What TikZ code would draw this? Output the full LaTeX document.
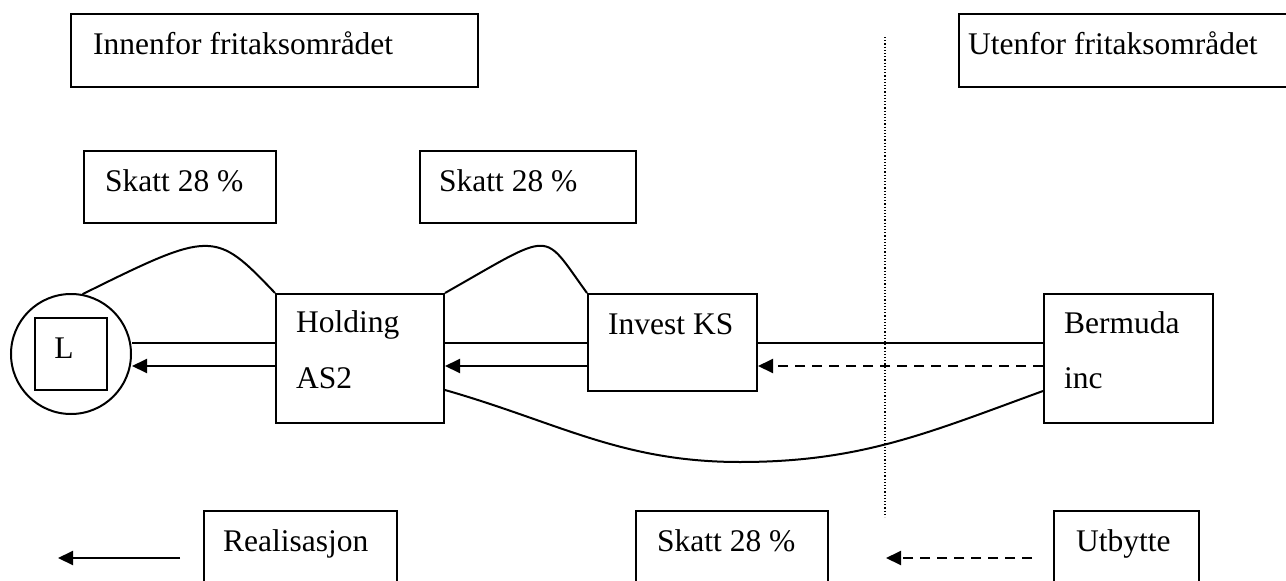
\documentclass[tikz,border=0pt]{standalone}
\usepackage{fontspec}
\setmainfont{Liberation Serif}
\usetikzlibrary{arrows.meta}
\begin{document}
\begin{tikzpicture}[x=1pt,y=-1pt,
  box/.style={draw, line width=2pt, inner sep=0pt, anchor=north west},
  txt/.style={anchor=base west, inner sep=0pt, font=\fontsize{31.5}{38}\selectfont},
  link/.style={line width=2pt},
  flow/.style={line width=2pt, -{Triangle[length=15pt,width=14pt]}},
  payout/.style={flow, dash pattern=on 10pt off 7pt},
  border/.style={line width=1.2pt, dash pattern=on 1.2pt off 2pt}]

\clip (0,0) rectangle (1286,581);
\fill[white] (0,0) rectangle (1286,581);

% zone headings
\node[box, minimum width=407pt, minimum height=73pt] (inside) at (70,13) {};
\node[txt] (insidet) at (93,54) {Innenfor fritaksområdet};
\node[box, minimum width=360pt, minimum height=73pt] (outside) at (958,13) {};
\node[txt] (outsidet) at (968,54) {Utenfor fritaksområdet};

% tax boxes above the chain
\node[box, minimum width=192pt, minimum height=72pt] (tax1) at (83,150) {};
\node[txt] (tax1t) at (105,191) {Skatt 28 \%};
\node[box, minimum width=216pt, minimum height=72pt] (tax2) at (419,150) {};
\node[txt] (tax2t) at (439,191) {Skatt 28 \%};

% owner
\node[draw, circle, line width=2pt, minimum size=120pt, inner sep=0pt] (owner) at (71,354) {};
\node[box, anchor=center, minimum size=72pt] (ownerbox) at (71,354) {};
\node[txt, anchor=base] (ownert) at (64,358) {L};

% companies
\node[box, minimum width=168pt, minimum height=129pt] (hold) at (275,293) {};
\node[txt] (holdt1) at (296,332) {Holding};
\node[txt] (holdt2) at (296,388) {AS2};
\node[box, minimum width=169pt, minimum height=97pt] (inv) at (587,293) {};
\node[txt] (invt) at (608,334) {Invest KS};
\node[box, minimum width=169pt, minimum height=129pt] (berm) at (1043,293) {};
\node[txt] (bermt1) at (1064,333) {Bermuda};
\node[txt] (bermt2) at (1064,388) {inc};

% legend boxes
\node[box, minimum width=193pt, minimum height=100pt] (real) at (203,510) {};
\node[txt] (realt) at (223,551) {Realisasjon};
\node[box, minimum width=192pt, minimum height=100pt] (tax3) at (635,510) {};
\node[txt] (tax3t) at (657,551) {Skatt 28 \%};
\node[box, minimum width=145pt, minimum height=100pt] (div) at (1053,510) {};
\node[txt] (divt) at (1076,551) {Utbytte};

% ports on the company boxes
\coordinate (hwA) at ([yshift=-50pt]hold.north west);
\coordinate (hwB) at ([yshift=-73pt]hold.north west);
\coordinate (heA) at ([yshift=-50pt]hold.north east);
\coordinate (heB) at ([yshift=-73pt]hold.north east);
\coordinate (heC) at ([yshift=-97pt]hold.north east);
\coordinate (iwA) at ([yshift=-50pt]inv.north west);
\coordinate (iwB) at ([yshift=-73pt]inv.north west);
\coordinate (ieA) at ([yshift=-50pt]inv.north east);
\coordinate (ieB) at ([yshift=-73pt]inv.north east);
\coordinate (bwA) at ([yshift=-50pt]berm.north west);
\coordinate (bwB) at ([yshift=-73pt]berm.north west);
\coordinate (bwC) at ([yshift=-98pt]berm.north west);
\coordinate (dip) at (740,462);

% ownership lines
\draw[link] (owner.east |- hwA) -- (hwA);
\draw[link] (heA) -- (iwA);
\draw[link] (ieA) -- (bwA);

% realisation flows
\draw[flow] (hwB) -- (owner.east |- hwB);
\draw[flow] (iwB) -- (heB);

% dividend flow
\draw[payout] (bwB) -- (ieB);

% tax arcs
\draw[link] (owner.79) .. controls (212,230) and (215,230) .. (hold.north west);
\draw[link] (hold.north east) .. controls (556,230) and (541,230) .. (inv.north west);
\draw[link] (heC) to[out=-16,in=180] (dip) to[out=0,in=200] (bwC);

% boundary of the exemption area
\coordinate (divtop) at (885,37);
\coordinate (divbot) at (885,517);
\draw[border] (divtop) -- (divbot);

% legend arrows
\coordinate (rs) at (180,558);
\coordinate (re) at (58,558);
\draw[flow] (rs) -- (re);
\coordinate (ds) at (1032,558);
\coordinate (de) at (886,558);
\draw[payout] (ds) -- (de);
\end{tikzpicture}
\end{document}
